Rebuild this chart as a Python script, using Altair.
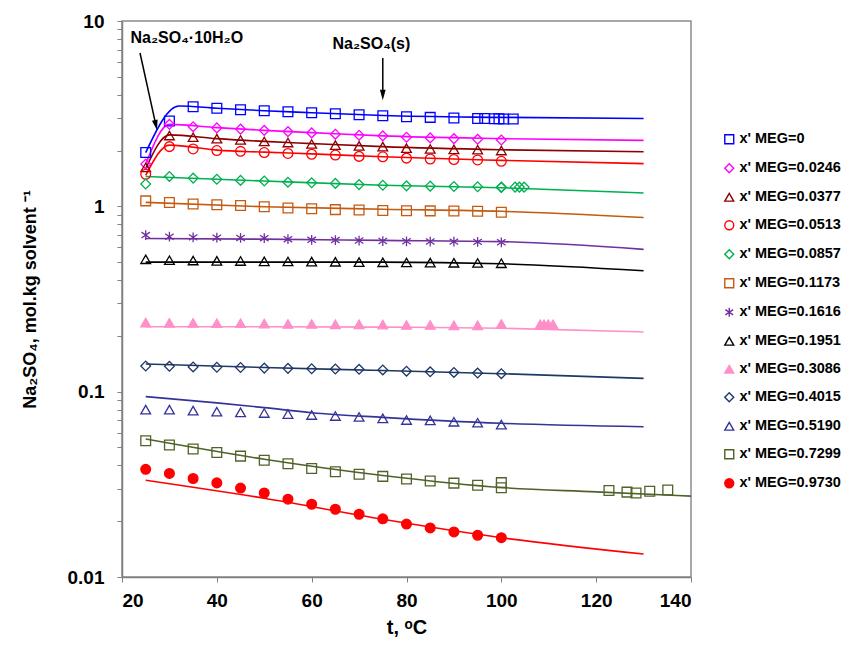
import altair as alt
import pandas as pd

# ---------------- data ----------------
labels = ["x' MEG=0", "x' MEG=0.0246", "x' MEG=0.0377", "x' MEG=0.0513",
          "x' MEG=0.0857", "x' MEG=0.1173", "x' MEG=0.1616", "x' MEG=0.1951",
          "x' MEG=0.3086", "x' MEG=0.4015", "x' MEG=0.5190", "x' MEG=0.7299",
          "x' MEG=0.9730"]

T16 = [25, 30, 35, 40, 45, 50, 55, 60, 65, 70, 75, 80, 85, 90, 95, 100]

# experimental points
pt_t = {
    labels[0]: [25, 30, 35, 40, 45, 50, 55, 60, 65, 70, 75, 80, 85, 90, 95, 96.5, 98.5, 99.5, 100.5, 102.5],
    labels[1]: T16,
    labels[2]: T16,
    labels[3]: T16,
    labels[4]: T16 + [100, 102.9, 103.8, 104.8],
    labels[5]: T16,
    labels[6]: T16,
    labels[7]: T16,
    labels[8]: T16 + [108.2, 109.0, 109.9, 110.9],
    labels[9]: T16,
    labels[10]: T16,
    labels[11]: T16 + [100, 122.7, 126.5, 128.4, 131.3, 135.1],
    labels[12]: T16,
}
pt_v = {
    labels[0]: [1.95, 2.89, 3.45, 3.38, 3.32, 3.28, 3.24, 3.20, 3.16, 3.12, 3.08, 3.04, 3.02, 3.00, 2.98, 2.98, 2.97, 2.97, 2.96, 2.96],
    labels[1]: [1.69, 2.77, 2.69, 2.65, 2.61, 2.57, 2.53, 2.49, 2.45, 2.42, 2.40, 2.36, 2.34, 2.32, 2.30, 2.28],
    labels[2]: [1.62, 2.41, 2.36, 2.32, 2.28, 2.24, 2.21, 2.17, 2.14, 2.12, 2.10, 2.06, 2.04, 2.03, 2.02, 2.00],
    labels[3]: [1.49, 2.10, 2.04, 2.00, 1.98, 1.95, 1.93, 1.91, 1.89, 1.86, 1.85, 1.82, 1.80, 1.79, 1.78, 1.75],
    labels[4]: [1.32, 1.45, 1.42, 1.40, 1.38, 1.37, 1.35, 1.34, 1.33, 1.31, 1.30, 1.29, 1.285, 1.28, 1.275, 1.27, 1.265, 1.27, 1.27, 1.27],
    labels[5]: [1.07, 1.05, 1.03, 1.02, 1.01, 0.995, 0.98, 0.97, 0.96, 0.955, 0.95, 0.947, 0.945, 0.943, 0.94, 0.93],
    labels[6]: [0.70, 0.686, 0.68, 0.677, 0.675, 0.673, 0.665, 0.66, 0.658, 0.654, 0.65, 0.648, 0.646, 0.645, 0.643, 0.64],
    labels[7]: [0.518, 0.512, 0.51, 0.508, 0.507, 0.505, 0.504, 0.503, 0.502, 0.50, 0.499, 0.498, 0.497, 0.496, 0.495, 0.493],
    labels[8]: [0.236, 0.235, 0.235, 0.234, 0.234, 0.233, 0.232, 0.232, 0.231, 0.231, 0.230, 0.229, 0.229, 0.228, 0.228, 0.232, 0.231, 0.231, 0.231, 0.231],
    labels[9]: [0.1375, 0.137, 0.136, 0.1355, 0.135, 0.134, 0.1336, 0.133, 0.1325, 0.132, 0.131, 0.129, 0.128, 0.127, 0.126, 0.125],
    labels[10]: [0.080, 0.080, 0.079, 0.078, 0.0773, 0.0767, 0.0757, 0.0748, 0.0739, 0.073, 0.0718, 0.0703, 0.070, 0.0688, 0.068, 0.0664],
    labels[11]: [0.0543, 0.0515, 0.049, 0.047, 0.0449, 0.0427, 0.0408, 0.0385, 0.037, 0.0358, 0.0349, 0.0338, 0.033, 0.0321, 0.0313, 0.0323, 0.0303, 0.0293, 0.0287, 0.0284, 0.029, 0.0295],
    labels[12]: [0.0381, 0.0362, 0.034, 0.0322, 0.0302, 0.0284, 0.0263, 0.0247, 0.0232, 0.0218, 0.0206, 0.0193, 0.0184, 0.0175, 0.0168, 0.0163],
}

# model curves
TA = [25, 30, 40, 50, 60, 75, 100, 130]
TB = [25, 50, 75, 100, 130]
ln_t = {
    labels[0]: [25, 32, 40, 50, 60, 75, 100, 130],
    labels[1]: TA, labels[2]: TA, labels[3]: TA,
    labels[4]: TB, labels[5]: TB, labels[6]: TB, labels[7]: TB,
    labels[8]: TB, labels[9]: TB,
    labels[10]: [25, 40, 50, 60, 75, 100, 130],
    labels[11]: [25, 50, 75, 100, 120, 140],
    labels[12]: TB,
}
ln_v = {
    labels[0]: [1.95, 3.48, 3.38, 3.28, 3.20, 3.09, 3.02, 2.98],
    labels[1]: [1.69, 2.77, 2.66, 2.57, 2.50, 2.40, 2.32, 2.27],
    labels[2]: [1.60, 2.43, 2.32, 2.24, 2.18, 2.10, 2.02, 1.97],
    labels[3]: [1.47, 2.14, 2.01, 1.96, 1.92, 1.85, 1.77, 1.70],
    labels[4]: [1.45, 1.37, 1.30, 1.26, 1.18],
    labels[5]: [1.05, 0.995, 0.965, 0.94, 0.87],
    labels[6]: [0.67, 0.665, 0.655, 0.645, 0.586],
    labels[7]: [0.50, 0.50, 0.50, 0.49, 0.449],
    labels[8]: [0.224, 0.224, 0.223, 0.22, 0.21],
    labels[9]: [0.141, 0.135, 0.13, 0.125, 0.118],
    labels[10]: [0.094, 0.087, 0.082, 0.077, 0.0727, 0.0675, 0.0647],
    labels[11]: [0.0555, 0.0432, 0.0353, 0.0304, 0.0288, 0.0273],
    labels[12]: [0.0333, 0.0266, 0.0205, 0.0163, 0.0133],
}

colors = ["#0000FF", "#FF00FF", "#8B0000", "#FF0000", "#00B050", "#C55A11",
          "#7030A0", "#000000", "#FF8FC8", "#1F3864", "#333399", "#4F6228", "#FF0000"]
asterisk = "M0,-1L0,1M-0.87,-0.6L0.87,0.6M-0.87,0.6L0.87,-0.6"
shapes = ["square", "diamond", "triangle-up", "circle", "diamond", "square",
          asterisk, "triangle-up", "triangle-up", "diamond", "triangle-up",
          "square", "circle"]
fills = ["transparent"] * 8 + ["#FF8FC8"] + ["transparent"] * 3 + ["#FF0000"]

# annotations
ann1_text = ["Na₂SO₄·10H₂O"]
ann1_x = [21.8]
ann1_y = [8.1]
ann2_text = ["Na₂SO₄(s)"]
ann2_x = [72.6]
ann2_y = [7.5]
arr_x1 = [23.8, 75.0]
arr_y1 = [6.72, 6.31]
arr_x2 = [27.15, 75.0]
arr_y2 = [2.74, 3.99]
arr_angle = [347.5, 0]

y_ticks = [0.01, 0.02, 0.03, 0.04, 0.05, 0.06, 0.07, 0.08, 0.09,
           0.1, 0.2, 0.3, 0.4, 0.5, 0.6, 0.7, 0.8, 0.9,
           1, 2, 3, 4, 5, 6, 7, 8, 9, 10]
x_ticks = [20, 40, 60, 80, 100, 120, 140]

# ---------------- tables ----------------
pts = pd.DataFrame([{"series": s, "t": t, "v": v}
                    for s in labels for t, v in zip(pt_t[s], pt_v[s])])
lns = pd.DataFrame([{"series": s, "t": t, "v": v}
                    for s in labels for t, v in zip(ln_t[s], ln_v[s])])
ann1 = pd.DataFrame({"text": ann1_text, "x": ann1_x, "y": ann1_y})
ann2 = pd.DataFrame({"text": ann2_text, "x": ann2_x, "y": ann2_y})
arr = pd.DataFrame({"x1": arr_x1, "y1": arr_y1, "x2": arr_x2, "y2": arr_y2, "a": arr_angle})

FONT = "Liberation Sans"

xs = alt.Scale(domain=[20, 140], nice=False, zero=False)
ys = alt.Scale(type="log", domain=[0.01, 10], nice=False)

x_axis = alt.Axis(values=x_ticks, title="t, ᵒC", grid=False, tickSize=5,
                  labelFontSize=19, labelFontWeight="bold", titleFontSize=20,
                  titleFontWeight="bold", labelPadding=9, titlePadding=7)
y_axis = alt.Axis(values=y_ticks, title="Na₂SO₄, mol.kg solvent ⁻¹", grid=False, tickSize=5,
                  labelExpr="datum.value == 0.01 ? '0.01' : datum.value == 0.1 ? '0.1' : datum.value == 1 ? '1' : datum.value == 10 ? '10' : ''",
                  labelFontSize=19, labelFontWeight="bold", titleFontSize=18,
                  titleFontWeight="bold", labelPadding=13, titlePadding=28)

color_scale = alt.Scale(domain=labels, range=colors)
stroke_scale = alt.Scale(domain=labels, range=colors)
fill_scale = alt.Scale(domain=labels, range=fills)
shape_scale = alt.Scale(domain=labels, range=shapes)

legend = alt.Legend(title=None, orient="none", legendX=600, legendY=111,
                    labelFont=FONT, labelFontSize=14.5, labelFontWeight="bold",
                    labelColor="black", symbolSize=80, symbolStrokeWidth=1.4,
                    rowPadding=13, labelOffset=3, padding=0, labelLimit=200)

lines = alt.Chart(lns).mark_line(strokeWidth=1.6, interpolate="monotone").encode(
    x=alt.X("t:Q", scale=xs, axis=x_axis),
    y=alt.Y("v:Q", scale=ys, axis=y_axis),
    color=alt.Color("series:N", scale=color_scale, legend=None),
    detail="series:N",
)

points = alt.Chart(pts).mark_point(size=95, strokeWidth=1.3, opacity=1, filled=False).encode(
    x=alt.X("t:Q", scale=xs),
    y=alt.Y("v:Q", scale=ys),
    stroke=alt.Stroke("series:N", scale=stroke_scale, legend=legend),
    fill=alt.Fill("series:N", scale=fill_scale, legend=legend),
    shape=alt.Shape("series:N", scale=shape_scale, legend=legend),
)

ann1_marks = alt.Chart(ann1).mark_text(font=FONT, fontSize=16, fontWeight="bold",
                                       align="left", baseline="middle", color="black").encode(
    x="x:Q", y="y:Q", text="text:N")
ann2_marks = alt.Chart(ann2).mark_text(font=FONT, fontSize=16, fontWeight="bold",
                                       align="center", baseline="middle", color="black").encode(
    x="x:Q", y="y:Q", text="text:N")

arr_lines = alt.Chart(arr).mark_rule(color="black", strokeWidth=1.5).encode(
    x="x1:Q", y="y1:Q", x2="x2:Q", y2="y2:Q")

arr_heads = alt.Chart(arr).mark_point(
    shape="M-0.55,-1L0.55,-1L0,1Z", filled=True, color="black", opacity=1, size=110
).encode(x="x2:Q", y="y2:Q", angle=alt.Angle("a:Q", scale=None))

chart = alt.layer(lines, points, arr_lines, arr_heads, ann1_marks, ann2_marks).resolve_scale(
    color="independent"
).properties(
    width=569, height=556,
    autosize=alt.AutoSizeParams(type="none"),
    padding={"left": 122, "top": 21, "right": 157, "bottom": 68},
).configure(font=FONT).configure_view(
    stroke="#8c8c8c", strokeWidth=1.5
).configure_axis(
    domainColor="#808080", domainWidth=1.5, tickColor="#808080", tickWidth=1,
    labelColor="black", titleColor="black", labelFont=FONT, titleFont=FONT,
)

chart.save("out.html", embed_options={"renderer": "svg", "actions": False})
